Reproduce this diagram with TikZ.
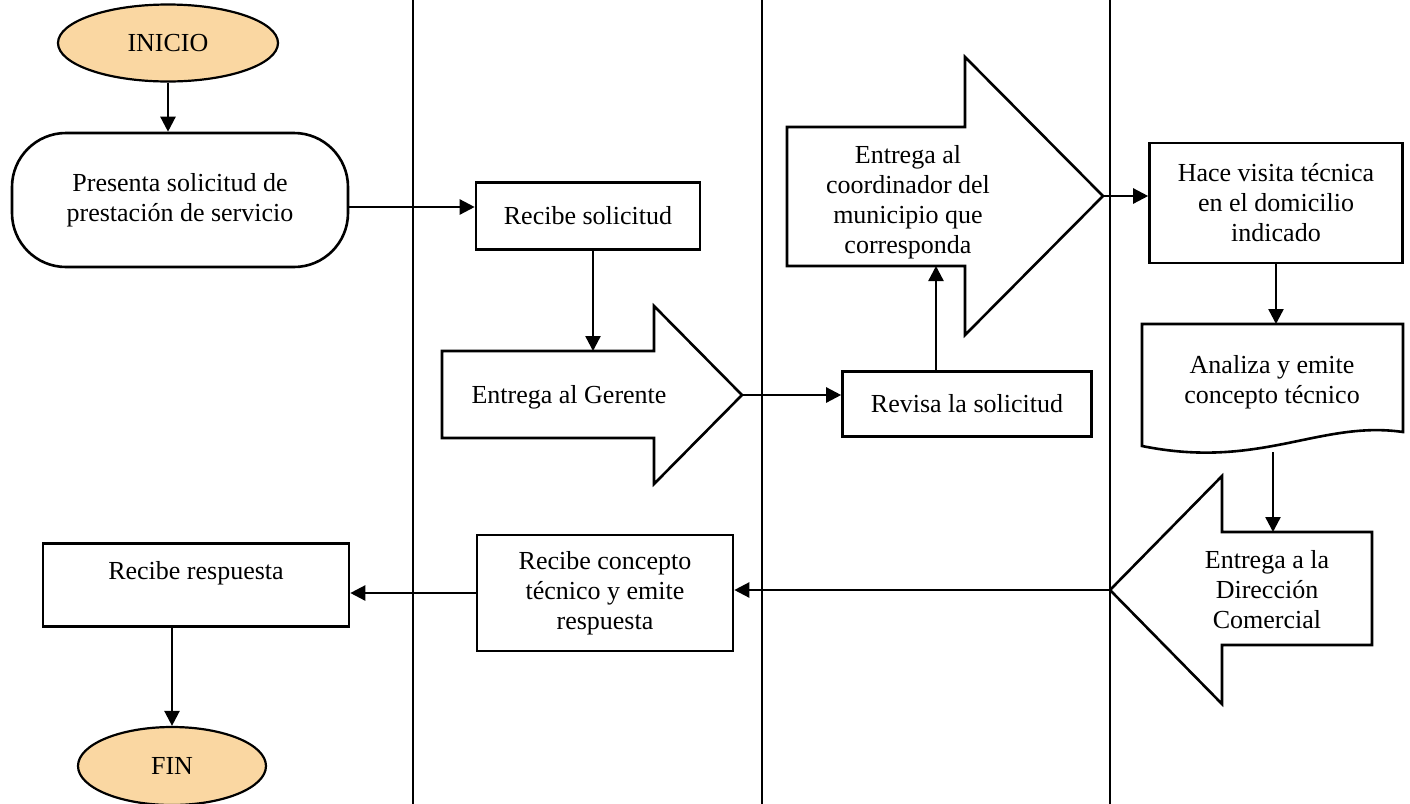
\documentclass[tikz,border=0pt]{standalone}
\usepackage{fontspec}
\setmainfont{Liberation Serif}
\usetikzlibrary{arrows.meta,shapes.geometric}
\definecolor{termfill}{RGB}{250,215,162}
\begin{document}
\begin{tikzpicture}[x=0.5pt,y=-0.5pt,
  every node/.style={font=\fontsize{13}{15}\selectfont, align=center, inner sep=0pt},
  box/.style={draw, line width=1.3pt, fill=white},
  term/.style={draw, ellipse, line width=1.1pt, fill=termfill},
  bigarrow/.style={draw, line width=1.3pt, fill=white, line join=miter},
  lane/.style={line width=1pt},
  arr/.style={line width=1.2pt, -{Triangle[length=7.5pt,width=7.5pt]}},
]
\useasboundingbox (0,0) rectangle (1410,804);

% swimlane separators
\draw[lane] (413,0) -- (413,804);
\draw[lane] (762,0) -- (762,804);
\draw[lane] (1110,0) -- (1110,804);

% first lane
\node[term, minimum width=110pt, minimum height=38.5pt] (ini) at (168,43) {INICIO};
\node[box, rounded corners=27pt, minimum width=168pt, minimum height=67pt] (pres) at (180,200)
  {Presenta solicitud de\\prestación de servicio};
\node[box, minimum width=153pt, minimum height=41.5pt, text height=9pt, text depth=15pt] (rres) at (196,585)
  {Recibe respuesta};
\node[term, minimum width=94pt, minimum height=39pt] (fin) at (172,766) {FIN};

% second lane
\node[box, minimum width=112pt, minimum height=33.5pt] (rsol) at (588,216) {Recibe solicitud};
\draw[bigarrow] (442,351) -- (654,351) -- (654,306) -- (742,395) -- (654,484) -- (654,438) -- (442,438) -- cycle;
\coordinate (gtip) at (742,395);
\coordinate (gtop) at (593,351);
\node (ger) at (569,397) {Entrega al Gerente};
\node[box, minimum width=128pt, minimum height=58pt] (rcon) at (605,593)
  {Recibe concepto\\técnico y emite\\respuesta};

% third lane
\node[box, minimum width=124.5pt, minimum height=32.5pt] (rev) at (967,404) {Revisa la solicitud};
\draw[bigarrow] (787,127) -- (965,127) -- (965,57) -- (1103,196) -- (965,335) -- (965,266) -- (787,266) -- cycle;
\coordinate (ctip) at (1103,196);
\coordinate (cbot) at (936,266);
\node (coo) at (908,202) {Entrega al\\coordinador del\\municipio que\\corresponda};

% fourth lane
\node[box, minimum width=126.5pt, minimum height=60pt] (hace) at (1276,203)
  {Hace visita técnica\\en el domicilio\\indicado};
\draw[bigarrow] (1142,324) -- (1403,324) -- (1403,432)
  .. controls (1320,420) and (1260,470) .. (1142,446) -- cycle;
\coordinate (atop) at (1273,324);
\coordinate (abot) at (1273,452);
\node (ana) at (1272,382) {Analiza y emite\\concepto técnico};
\draw[bigarrow] (1372,532) -- (1222,532) -- (1222,476) -- (1110,590) -- (1222,704) -- (1222,645) -- (1372,645) -- cycle;
\coordinate (dtip) at (1110,590);
\coordinate (dtop) at (1273,532);
\node (dir) at (1267,590) {Entrega a la\\Dirección\\Comercial};

% connectors
\draw[arr] (ini.south) -- (ini.south |- pres.north);
\draw[arr] ([yshift=-3.5pt]pres.east) -- ([yshift=-3.5pt]pres.east -| rsol.west);
\draw[arr] (rsol.south -| gtop) -- (gtop);
\draw[arr] (gtip) -- (gtip -| rev.west);
\draw[arr] (rev.north -| cbot) -- (cbot);
\draw[arr] (ctip) -- (ctip -| hace.west);
\draw[arr] (hace.south) -- (hace.south |- atop);
\draw[arr] (abot) -- (dtop);
\draw[arr] (dtip) -- (dtip -| rcon.east);
\draw[arr] (rcon.west) -- (rcon.west -| rres.east);
\draw[arr] (fin.north |- rres.south) -- (fin.north);
\end{tikzpicture}
\end{document}
